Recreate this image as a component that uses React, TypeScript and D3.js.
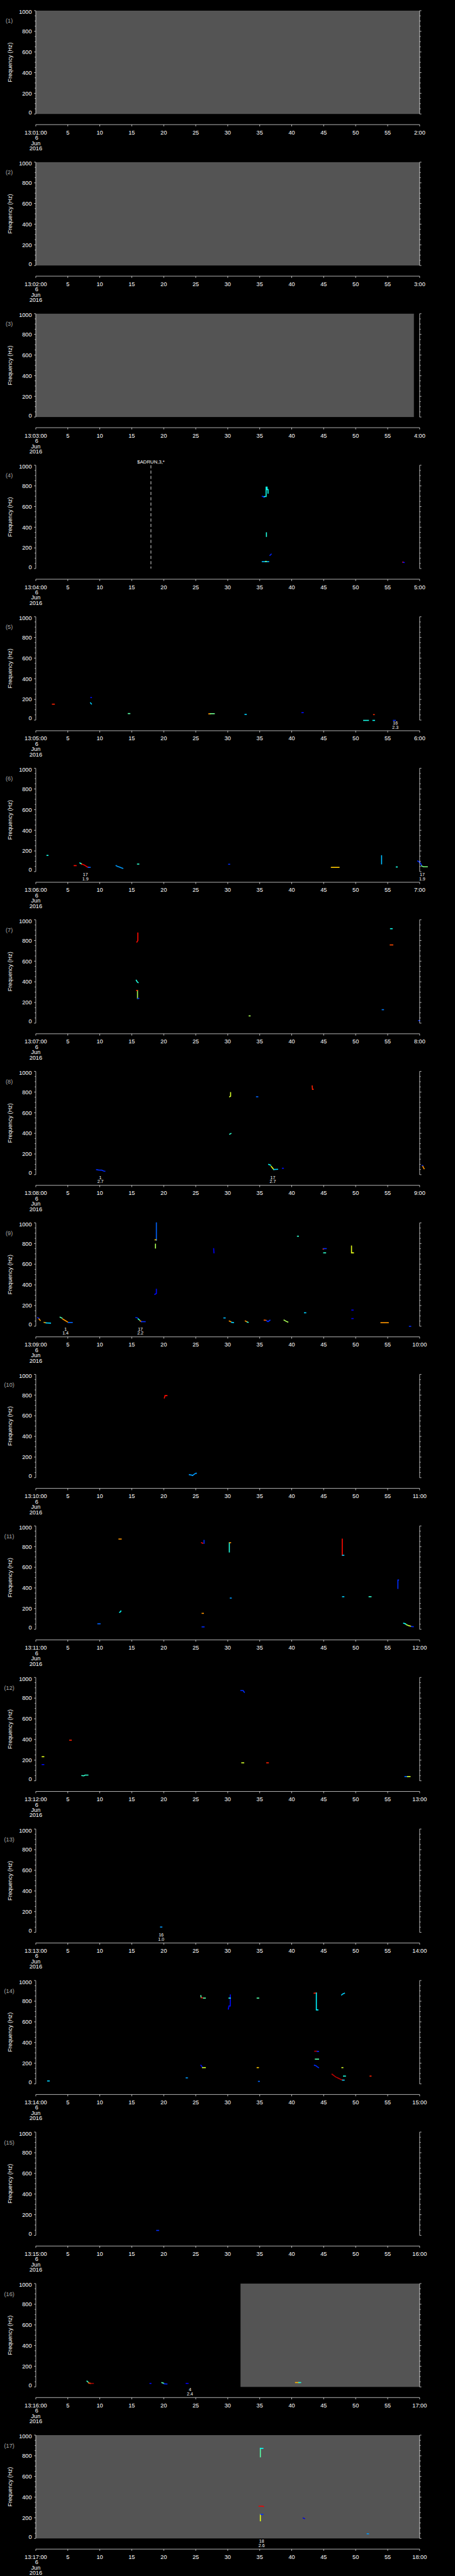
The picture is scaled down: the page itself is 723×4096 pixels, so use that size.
import React from 'react';
import * as d3 from 'd3';

// one panel per minute, 13:01 .. 13:17 on 6 Jun 2016
const panelMinutes = d3.range(1, 18);
const xTicks = [0, 5, 10, 15, 20, 25, 30, 35, 40, 45, 50, 55, 60];
const yMajor = [0, 200, 400, 600, 800, 1000];
const yMinor = d3.range(0, 1001, 50).filter(v => v % 200 !== 0);

// no-data (grey) time spans: [panel, from s, to s]
const greySpans: [number, number, number][] = [
  [1, 0, 60], [2, 0, 60], [3, 0, 59.1], [16, 32, 60], [17, 0, 60],
];

// event markers: [panel, second, label]
const eventMarks: [number, number, string][] = [[4, 18.0, '$ADRUN,3,*']];

// small two-line notes under tracks: [panel, second, line1, line2]
const notes: [number, number, string, string][] = [
  [5, 56.2, '16', '2.3'],
  [6, 7.75, '17', '1.9'], [6, 60.4, '17', '1.9'],
  [8, 10.1, '1', '2.7'], [8, 37.05, '17', '2.7'],
  [9, 4.65, '1', '1.4'], [9, 16.35, '17', '2.2'],
  [13, 19.6, '16', '1.0'],
  [16, 24.1, '4', '2.4'],
  [17, 35.3, '18', '2.6'],
];

type Track = [number, [number, number][]]; // [intensity 0..1, [second, Hz] points]

const tracks04: Track[] = [
  [0.15, [[35.4, 700], [35.7, 690]]],
  [0.36, [[35.7, 697], [36.0, 697], [36.0, 788], [36.15, 788], [36.15, 765], [36.3, 765], [36.3, 730]]],
  [0.38, [[36.05, 346], [36.05, 311]]],
  [0.14, [[36.6, 128], [36.8, 140]]],
  [0.28, [[35.4, 67], [36.4, 67]]],
  [0.48, [[35.9, 69], [36.05, 69]]],
  [0.88, [[57.35, 62], [57.45, 62]]],
  [0.12, [[57.45, 60], [57.6, 59]]],
];
const tracks05: Track[] = [
  [0.86, [[2.6, 154], [2.9, 154]]],
  [0.12, [[8.6, 218], [8.7, 218]]],
  [0.3, [[8.55, 167], [8.65, 160], [8.7, 156]]],
  [0.45, [[14.45, 63], [14.7, 63]]],
  [0.75, [[27.05, 60], [27.3, 61]]],
  [0.48, [[27.3, 62], [27.9, 62]]],
  [0.3, [[32.7, 55], [32.9, 55]]],
  [0.12, [[41.6, 72], [41.8, 72]]],
  [0.85, [[52.8, 53], [52.9, 53]]],
  [0.37, [[51.25, -3], [52.0, -3]]],
  [0.35, [[52.7, -3], [52.95, -3]]],
  [0.15, [[55.9, -3], [56.2, -3]]],
];
const tracks06: Track[] = [
  [0.37, [[1.75, 157], [1.9, 157]]],
  [0.88, [[6.0, 58], [6.3, 58]]],
  [0.36, [[6.9, 84], [7.1, 77]]],
  [0.5, [[7.1, 77], [7.2, 72]]],
  [0.9, [[7.2, 72], [7.5, 66], [7.8, 55], [8.0, 47], [8.2, 43]]],
  [0.2, [[8.2, 41], [8.5, 41]]],
  [0.25, [[12.55, 58], [12.8, 50], [13.1, 44], [13.4, 36], [13.6, 32]]],
  [0.4, [[15.9, 73], [16.1, 73]]],
  [0.15, [[30.15, 71], [30.3, 71]]],
  [0.7, [[46.2, 41], [47.4, 41]]],
  [0.28, [[54.05, 154], [54.05, 75]]],
  [0.37, [[56.35, 45], [56.5, 45]]],
  [0.15, [[59.7, 103], [60.0, 90], [60.2, 75], [60.3, 60]]],
  [0.5, [[60.3, 55], [60.6, 47], [61.2, 47]]],
];
const tracks07: Track[] = [
  [0.88, [[15.8, 785], [15.95, 800], [15.95, 873]]],
  [0.38, [[15.7, 416], [15.85, 400], [16.0, 392]]],
  [0.55, [[15.9, 317], [15.9, 239]]],
  [0.86, [[15.75, 317], [15.85, 317]]],
  [0.15, [[15.95, 239], [16.1, 239]]],
  [0.55, [[33.35, 70], [33.5, 70]]],
  [0.22, [[54.15, 130], [54.35, 130]]],
  [0.36, [[55.45, 914], [55.7, 914]]],
  [0.82, [[55.4, 757], [55.8, 757]]],
  [0.15, [[59.85, 25], [60.0, 25]]],
];
const tracks08: Track[] = [
  [0.15, [[9.5, 49], [9.8, 45], [10.3, 44], [10.6, 35], [10.8, 33]]],
  [0.6, [[30.3, 754], [30.45, 760], [30.45, 795]]],
  [0.4, [[30.3, 392], [30.5, 398]]],
  [0.2, [[34.5, 754], [34.7, 754]]],
  [0.86, [[43.2, 859], [43.25, 826], [43.35, 826]]],
  [0.35, [[36.4, 99], [36.7, 92]]],
  [0.62, [[36.8, 80], [37.0, 65], [37.2, 50]]],
  [0.3, [[37.2, 50], [37.8, 52]]],
  [0.12, [[38.55, 62], [38.7, 62]]],
  [0.15, [[60.4, 90], [60.5, 85]]],
  [0.75, [[60.5, 80], [60.6, 68], [60.7, 58]]],
];
const tracks09: Track[] = [
  [0.15, [[0.3, 83], [0.45, 77]]],
  [0.75, [[0.5, 70], [0.7, 55]]],
  [0.72, [[1.3, 37], [1.6, 33]]],
  [0.3, [[1.6, 32], [2.3, 30]]],
  [0.45, [[3.8, 87], [4.1, 78]]],
  [0.75, [[4.2, 70], [4.6, 55], [5.0, 40]]],
  [0.2, [[5.1, 36], [5.7, 36]]],
  [0.15, [[15.65, 84], [15.9, 80]]],
  [0.4, [[16.0, 70], [16.2, 60]]],
  [0.75, [[16.3, 52], [16.5, 45]]],
  [0.15, [[16.5, 44], [17.1, 44]]],
  [0.2, [[18.85, 1000], [18.85, 832]]],
  [0.7, [[18.65, 836], [18.8, 836]]],
  [0.55, [[18.7, 794], [18.7, 757]]],
  [0.12, [[18.85, 358], [18.85, 316], [18.6, 308]]],
  [0.1, [[27.8, 751], [27.85, 710]]],
  [0.28, [[29.4, 80], [29.6, 80]]],
  [0.75, [[30.25, 50], [30.5, 43]]],
  [0.3, [[30.6, 38], [30.9, 35]]],
  [0.75, [[32.75, 51], [33.0, 43]]],
  [0.4, [[33.05, 40], [33.2, 38]]],
  [0.8, [[35.7, 59], [36.0, 57]]],
  [0.15, [[36.1, 52], [36.3, 44], [36.6, 58]]],
  [0.55, [[38.8, 59], [39.2, 45], [39.4, 40]]],
  [0.4, [[40.9, 871], [41.05, 871]]],
  [0.3, [[42.0, 130], [42.2, 130]]],
  [0.85, [[44.9, 747], [45.0, 747]]],
  [0.15, [[45.0, 751], [45.4, 751]]],
  [0.4, [[45.0, 710], [45.3, 710]]],
  [0.62, [[49.35, 776], [49.35, 710], [49.65, 710]]],
  [0.1, [[49.4, 156], [49.6, 156]]],
  [0.1, [[49.4, 74], [49.6, 74]]],
  [0.75, [[53.95, 34], [55.1, 34]]],
  [0.15, [[58.4, -1], [58.6, -1]]],
];
const tracks10: Track[] = [
  [0.88, [[20.1, 772], [20.2, 795], [20.5, 795]]],
  [0.25, [[24.0, 30], [24.4, 25], [24.5, 21], [24.8, 35], [25.0, 43], [25.1, 43]]],
];
const tracks11: Track[] = [
  [0.2, [[9.7, 53], [10.05, 53]]],
  [0.75, [[13.0, 873], [13.35, 873]]],
  [0.35, [[13.1, 164], [13.25, 170], [13.3, 177]]],
  [0.15, [[26.3, 860], [26.3, 832]]],
  [0.88, [[25.9, 838], [26.1, 832]]],
  [0.75, [[26.0, 154], [26.2, 154]]],
  [0.15, [[26.0, 23], [26.3, 23]]],
  [0.38, [[30.25, 838], [30.25, 748]]],
  [0.75, [[30.3, 838], [30.45, 838]]],
  [0.25, [[30.4, 302], [30.55, 302]]],
  [0.88, [[47.9, 873], [47.9, 716]]],
  [0.3, [[47.95, 716], [48.15, 716]]],
  [0.3, [[47.95, 315], [48.15, 315]]],
  [0.4, [[52.1, 315], [52.4, 315]]],
  [0.15, [[56.7, 476], [56.6, 476], [56.6, 396]]],
  [0.35, [[57.5, 59], [57.8, 52]]],
  [0.55, [[57.9, 45], [58.3, 35]]],
  [0.62, [[58.4, 33], [58.6, 30]]],
  [0.15, [[58.7, 27], [59.0, 25]]],
];
const tracks12: Track[] = [
  [0.62, [[1.0, 233], [1.25, 233]]],
  [0.12, [[1.0, 157], [1.25, 157]]],
  [0.86, [[5.3, 393], [5.55, 393]]],
  [0.4, [[7.2, 50], [7.5, 48], [7.7, 55], [8.15, 55]]],
  [0.15, [[32.05, 874], [32.4, 874], [32.6, 857]]],
  [0.6, [[32.2, 174], [32.5, 174]]],
  [0.86, [[36.1, 174], [36.35, 174]]],
  [0.2, [[57.7, 41], [58.1, 41]]],
  [0.6, [[58.1, 41], [58.5, 41]]],
];
const tracks13: Track[] = [
  [0.25, [[19.5, 51], [19.7, 51]]],
];
const tracks14: Track[] = [
  [0.3, [[1.85, 28], [2.1, 28]]],
  [0.25, [[23.5, 58], [23.7, 58]]],
  [0.45, [[25.8, 854], [25.85, 835]]],
  [0.9, [[25.9, 833], [26.1, 833]]],
  [0.45, [[26.2, 830], [26.5, 830]]],
  [0.12, [[25.8, 180], [26.0, 165]]],
  [0.6, [[26.05, 157], [26.5, 157]]],
  [0.12, [[30.1, 724], [30.2, 754], [30.4, 754], [30.4, 861]]],
  [0.38, [[30.2, 830], [30.4, 830]]],
  [0.45, [[34.6, 830], [34.85, 830]]],
  [0.7, [[34.6, 157], [34.8, 157]]],
  [0.2, [[34.8, 24], [34.95, 24]]],
  [0.86, [[43.5, 877], [43.85, 879]]],
  [0.33, [[43.85, 879], [43.85, 716], [44.1, 716]]],
  [0.95, [[43.6, 316], [44.0, 316]]],
  [0.15, [[44.0, 314], [44.2, 314]]],
  [0.45, [[43.7, 239], [44.2, 239]]],
  [0.15, [[43.55, 180], [43.8, 175], [44.0, 165], [44.2, 157]]],
  [0.95, [[46.3, 94], [46.6, 80], [46.9, 66], [47.2, 57], [47.5, 48], [47.8, 40], [48.0, 36]]],
  [0.3, [[47.95, 36], [48.2, 36]]],
  [0.38, [[48.1, 75], [48.4, 75]]],
  [0.6, [[47.85, 157], [48.0, 157]]],
  [0.3, [[47.8, 861], [48.0, 871], [48.25, 877]]],
  [0.86, [[52.25, 75], [52.4, 75]]],
];
const tracks15: Track[] = [
  [0.15, [[18.9, 48], [19.2, 48]]],
];
const tracks16: Track[] = [
  [0.42, [[8.0, 56], [8.2, 45]]],
  [0.8, [[8.25, 38], [8.6, 34]]],
  [0.97, [[8.6, 34], [9.0, 34]]],
  [0.12, [[17.85, 34], [18.0, 34]]],
  [0.45, [[19.7, 42], [20.0, 35]]],
  [0.15, [[20.05, 30], [20.5, 28]]],
  [0.1, [[23.5, 34], [23.8, 34]]],
  [0.72, [[40.6, 42], [41.1, 42]]],
  [0.38, [[41.1, 42], [41.4, 42]]],
];
const tracks17: Track[] = [
  [0.45, [[35.1, 790], [35.1, 871]]],
  [0.35, [[35.1, 871], [35.5, 871]]],
  [0.9, [[34.9, 312], [35.5, 312], [35.6, 308]]],
  [0.62, [[35.1, 171], [35.1, 233]]],
  [0.15, [[35.15, 233], [35.5, 233]]],
  [0.08, [[41.8, 197], [42.0, 192]]],
  [0.25, [[51.8, 45], [52.0, 45]]],
];

const panelTracks: Track[][] = [
  [], [], [], tracks04, tracks05, tracks06, tracks07, tracks08, tracks09,
  tracks10, tracks11, tracks12, tracks13, tracks14, tracks15, tracks16, tracks17,
];

// layout, in the reference's 1024 x 5802 pixel space
const W = 1024;
const H = 5802;
const step = H / 17;
const plotTop = 24;
const plotBottom = 256.7;
const axisY = 280.7;
const font = '"Liberation Sans", Arial, sans-serif';

const x = d3.scaleLinear().domain([0, 60]).range([80.5, 944.5]);
const y = d3.scaleLinear().domain([0, 1000]).range([plotBottom, plotTop]);
const jet = d3.scaleLinear<string>()
  .domain([0, 0.11, 0.34, 0.5, 0.65, 0.89, 1])
  .range(['#00008f', '#0000ff', '#00ffff', '#7fff7f', '#ffff00', '#ff0000', '#800000'])
  .clamp(true);
const line = d3.line<[number, number]>().x(d => x(d[0])).y(d => y(d[1]));

const pad = (n: number) => String(n).padStart(2, '0');

const Panel = ({ idx }: { idx: number }) => {
  const num = idx + 1;
  const minute = panelMinutes[idx];
  return (
    <g transform={`translate(0, ${idx * step})`}>
      {greySpans.filter(g => g[0] === num).map((g, i) => (
        <rect key={i} x={x(g[1])} y={plotTop} width={x(g[2]) - x(g[1])}
          height={plotBottom - plotTop} fill="#545454" />
      ))}

      {panelTracks[idx].map((t, i) => (
        <path key={i} d={line(t[1]) || ''} fill="none" stroke={jet(t[0])}
          strokeWidth={2.3} strokeLinecap="square" strokeLinejoin="miter" />
      ))}

      {eventMarks.filter(m => m[0] === num).map((m, i) => (
        <g key={i}>
          <line x1={x(m[1])} x2={x(m[1])} y1={plotTop} y2={plotBottom}
            stroke="#fff" strokeWidth={1.2} strokeDasharray="7 5" />
          <text x={x(m[1])} y={19.4} fill="#fff" fontSize={11} textAnchor="middle"
            fontFamily={font}>{m[2]}</text>
        </g>
      ))}

      {notes.filter(n => n[0] === num).map((n, i) => (
        <g key={i} fill="#fff" fontSize={10} textAnchor="middle" fontFamily={font}>
          <text x={x(n[1])} y={266.5}>{n[2]}</text>
          <text x={x(n[1])} y={276}>{n[3]}</text>
        </g>
      ))}

      {/* left and right frequency axes */}
      <g stroke="#fff" strokeWidth={1}>
        <line x1={x(0)} x2={x(0)} y1={plotTop} y2={plotBottom} />
        <line x1={x(60)} x2={x(60)} y1={plotTop} y2={plotBottom} />
        {yMajor.map(v => (
          <g key={v}>
            <line x1={x(0) - 4} x2={x(0)} y1={y(v)} y2={y(v)} />
            <line x1={x(60)} x2={x(60) + 4} y1={y(v)} y2={y(v)} />
          </g>
        ))}
        {yMinor.map(v => (
          <g key={v}>
            <line x1={x(0) - 2.5} x2={x(0)} y1={y(v)} y2={y(v)} />
            <line x1={x(60)} x2={x(60) + 2.5} y1={y(v)} y2={y(v)} />
          </g>
        ))}
      </g>
      {yMajor.map(v => (
        <text key={v} x={71.5} y={y(v) + (v === 1000 ? 3 : v === 0 ? -4 : 0)} dy="0.36em"
          fill="#fff" fontSize={13} textAnchor="end" fontFamily={font}>{v}</text>
      ))}
      <text transform={`translate(27.5, ${(plotTop + plotBottom) / 2}) rotate(-90)`}
        fill="#fff" fontSize={13} textAnchor="middle" fontFamily={font}>Frequency (Hz)</text>
      <text x={20.7} y={47} dy="0.36em" fill="#aaa" fontSize={13} textAnchor="middle"
        fontFamily={font}>({num})</text>

      {/* time axis */}
      <line x1={x(0)} x2={x(60)} y1={axisY} y2={axisY} stroke="#fff" strokeWidth={1} />
      {xTicks.map(t => {
        const label = t === 0 ? `13:${pad(minute)}:00` : t === 60 ? `${minute + 1}:00` : String(t);
        return (
          <g key={t}>
            <line x1={x(t)} x2={x(t)} y1={axisY} y2={axisY + 4} stroke="#fff" strokeWidth={1} />
            <text x={x(t)} y={302.7} fill="#fff" fontSize={13} textAnchor="middle"
              fontFamily={font}>{label}</text>
          </g>
        );
      })}
      <g fill="#fff" fontSize={13} textAnchor="middle" fontFamily={font}>
        <text x={x(0) + 2} y={314.7}>6</text>
        <text x={x(0)} y={326.7}>Jun</text>
        <text x={x(0)} y={338.7}>2016</text>
      </g>
    </g>
  );
};

export default function App() {
  return (
    <>
      <style>{'body{margin:0;background:#000}'}</style>
      <svg width={723} height={4096} viewBox={`0 0 ${W} ${H}`} style={{ display: 'block' }}>
        <rect width={W} height={H} fill="#000" />
        {panelMinutes.map((m, i) => <Panel key={m} idx={i} />)}
      </svg>
    </>
  );
}
